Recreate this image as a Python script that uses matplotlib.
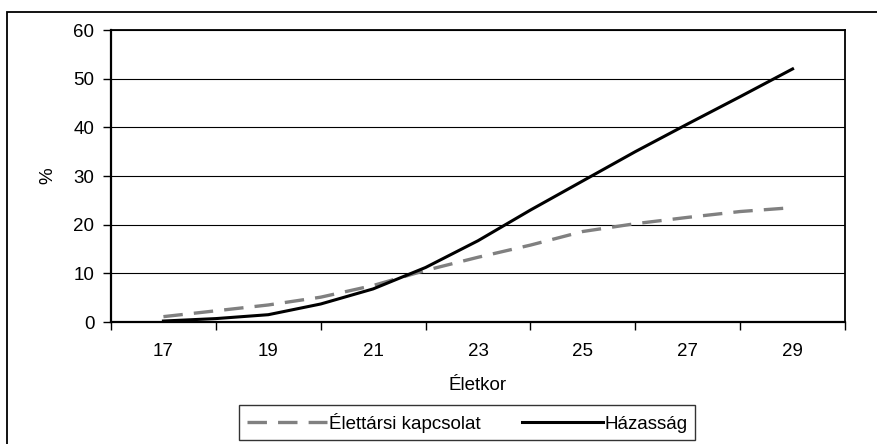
import matplotlib
matplotlib.use("Agg")
import matplotlib.pyplot as plt
from matplotlib.patches import Rectangle

plt.rcParams['font.family'] = ['Liberation Sans', 'DejaVu Sans']
plt.rcParams['lines.scale_dashes'] = False

ages = [17, 18, 19, 20, 21, 22, 23, 24, 25, 26, 27, 28, 29]
elettarsi = [1.1, 2.3, 3.5, 5.1, 7.5, 10.6, 13.3, 15.8, 18.6, 20.2, 21.5, 22.7, 23.5]
hazassag = [0.2, 0.7, 1.5, 3.7, 6.8, 11.2, 16.7, 23.0, 29.0, 35.0, 40.7, 46.3, 52.0]
xtick_labels = ['17', '19', '21', '23', '25', '27', '29']
series_names = ['Élettársi kapcsolat', 'Házasság']

W, H = 877, 444
fig = plt.figure(figsize=(W / 100, H / 100), dpi=100)
ax = fig.add_axes([111 / W, 1 - 322 / H, (845 - 111) / W, (322 - 30) / H])

fs = 13.5
ax.plot(ages, elettarsi, color='#808080', lw=2.4, linestyle=(0, (14, 8)),
        label=series_names[0], dash_capstyle='butt')
ax.plot(ages, hazassag, color='black', lw=2.2, label=series_names[1],
        solid_joinstyle='round')

ax.set_xlim(16, 30)
ax.set_ylim(0, 60)
ax.set_yticks(range(0, 61, 10))
ax.yaxis.grid(True, color='black', lw=0.8)
ax.set_axisbelow(True)

ax.set_xticks(range(16, 31, 2))
ax.set_xticklabels([])
ax.set_xticks([int(s) for s in xtick_labels], minor=True)
ax.set_xticklabels(xtick_labels, minor=True)
ax.tick_params(axis='x', which='major', direction='out', length=6, width=1, color='black')
ax.tick_params(axis='x', which='minor', length=0, pad=15, labelsize=fs)
ax.tick_params(axis='y', direction='out', length=6, width=1, pad=6, labelsize=fs)

for s in ax.spines.values():
    s.set_color('black')
    s.set_linewidth(1.3)
ax.spines['left'].set_linewidth(1.6)
ax.spines['bottom'].set_linewidth(1.6)

ax.set_ylabel('%', fontsize=fs, labelpad=12)
ax.set_xlabel('Életkor', fontsize=fs, labelpad=12)

leg = fig.legend(loc='center', bbox_to_anchor=(467 / W, 1 - 422.5 / H), ncol=2,
                 fontsize=fs, frameon=True, fancybox=False, edgecolor='black',
                 handlelength=4.3, handletextpad=0.1, columnspacing=2.2,
                 borderpad=0.38, borderaxespad=0)
leg.get_frame().set_linewidth(1.0)

# outer chart border (cropped at right and bottom)
fig.patches.append(Rectangle((7 / W, -0.1), (W + 20) / W, 1 - 12 / H + 0.1,
                             transform=fig.transFigure, fill=False,
                             edgecolor='black', lw=1.3))

fig.savefig('out.png', dpi=100)
